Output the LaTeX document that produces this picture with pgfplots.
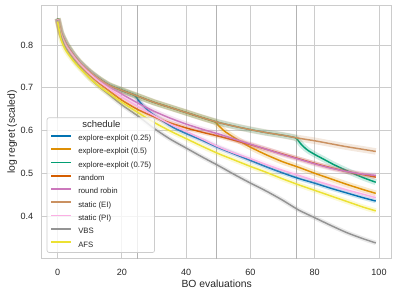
\documentclass[border=0pt]{standalone}
\usepackage{pgfplots}
\pgfplotsset{compat=1.18}
\usepackage{pgfplotstable}
\usepackage{fontspec}
\setmainfont{Liberation Sans}
\definecolor{cblue}{HTML}{0173B2}
\definecolor{corange}{HTML}{DE8F05}
\definecolor{cgreen}{HTML}{029E73}
\definecolor{cred}{HTML}{D55E00}
\definecolor{cmag}{HTML}{CC78BC}
\definecolor{cbrown}{HTML}{CA9161}
\definecolor{cpink}{HTML}{FBAFE4}
\definecolor{cgray}{HTML}{949494}
\definecolor{cyellow}{HTML}{ECE133}
\definecolor{cgrid}{HTML}{CCCCCC}
\definecolor{cvline}{HTML}{B3B3B3}

\pgfplotstableread{
x y
0 0.862
1 0.830
2 0.812
3 0.798
5 0.776
7 0.758
10 0.737
13 0.720
16 0.706
20 0.694
25 0.680
30 0.666
35 0.654
40 0.642
45 0.630
50 0.619
55 0.610
60 0.602
65 0.595
70 0.589
75 0.582
80 0.576
85 0.569
90 0.562
95 0.556
99 0.551
}\tEI

\pgfplotstableread{
x y
0 0.862
1 0.830
2 0.812
3 0.798
5 0.776
7 0.758
10 0.737
13 0.720
16 0.706
20 0.694
24 0.682
25 0.672
26 0.663
27 0.655
28 0.648
30 0.636
33 0.621
36 0.607
40 0.593
45 0.577
50 0.560
55 0.545
60 0.530
65 0.515
70 0.501
75 0.488
80 0.477
85 0.465
90 0.454
95 0.443
99 0.435
}\tEEa

\pgfplotstableread{
x y
0 0.862
1 0.830
2 0.812
3 0.798
5 0.776
7 0.758
10 0.737
13 0.720
16 0.706
20 0.694
25 0.680
30 0.666
35 0.654
40 0.642
45 0.630
49 0.620
50 0.612
51 0.605
52 0.598
54 0.588
57 0.574
60 0.561
65 0.543
70 0.527
75 0.514
80 0.500
85 0.487
90 0.474
95 0.462
99 0.453
}\tEEb

\pgfplotstableread{
x y
0 0.862
1 0.830
2 0.812
3 0.798
5 0.776
7 0.758
10 0.737
13 0.720
16 0.706
20 0.694
25 0.680
30 0.666
35 0.654
40 0.642
45 0.630
50 0.619
55 0.610
60 0.602
65 0.595
70 0.589
74 0.583
75 0.575
76 0.566
77 0.559
78 0.553
80 0.544
83 0.532
86 0.520
90 0.506
95 0.490
99 0.479
}\tEEc

\pgfplotstableread{
x y
0 0.860
1 0.826
2 0.806
3 0.792
5 0.770
7 0.752
10 0.729
13 0.710
16 0.693
20 0.671
25 0.649
30 0.632
35 0.618
40 0.606
45 0.596
50 0.587
55 0.577
60 0.567
65 0.556
70 0.545
75 0.534
80 0.523
85 0.513
90 0.504
95 0.497
99 0.491
}\tRand

\pgfplotstableread{
x y
0 0.860
1 0.828
2 0.809
3 0.795
5 0.774
7 0.757
10 0.736
13 0.718
16 0.703
20 0.685
25 0.664
30 0.645
35 0.629
40 0.615
45 0.603
50 0.592
55 0.580
60 0.568
65 0.556
70 0.544
75 0.533
80 0.522
85 0.512
90 0.504
95 0.498
99 0.495
}\tRR

\pgfplotstableread{
x y
0 0.860
1 0.827
2 0.808
3 0.794
5 0.773
7 0.755
10 0.733
13 0.714
16 0.698
20 0.678
25 0.656
30 0.635
35 0.615
40 0.598
45 0.580
50 0.562
55 0.547
60 0.534
65 0.520
70 0.507
75 0.495
80 0.483
85 0.472
90 0.461
95 0.451
99 0.443
}\tPI

\pgfplotstableread{
x y
0 0.858
1 0.822
2 0.801
3 0.787
5 0.765
7 0.747
10 0.722
13 0.702
16 0.684
20 0.660
25 0.634
30 0.605
35 0.580
40 0.559
45 0.538
50 0.518
55 0.497
60 0.477
65 0.458
70 0.437
75 0.414
80 0.396
85 0.378
90 0.361
95 0.347
99 0.337
}\tVBS

\pgfplotstableread{
x y
0 0.855
1 0.815
2 0.795
3 0.782
5 0.762
7 0.745
10 0.722
13 0.703
16 0.687
20 0.666
25 0.642
30 0.619
35 0.599
40 0.581
45 0.563
50 0.546
55 0.531
60 0.516
65 0.502
70 0.487
75 0.473
80 0.460
85 0.447
90 0.434
95 0.421
99 0.412
}\tAFS

\newcommand{\series}[3]{%
\addplot[forget plot, color=#2, opacity=0.2, line width=#3, line cap=butt, smooth, tension=0.4] table[x=x, y=y] {#1};
\addplot[forget plot, color=#2, line width=1.7pt, smooth, tension=0.4] table[x=x, y=y] {#1};
}

\begin{document}
\begin{tikzpicture}
\path[use as bounding box] (0,0) rectangle (460.8pt,342.7pt);
\begin{axis}[
  at={(48.3pt,43.6pt)}, anchor=south west,
  width=405.2pt, height=292.5pt, scale only axis,
  xmin=-4.95, xmax=103.95, ymin=0.301, ymax=0.892,
  xtick={0,20,40,60,80,100},
  ytick={0.4,0.5,0.6,0.7,0.8},
  yticklabel style={/pgf/number format/fixed, /pgf/number format/precision=1, /pgf/number format/fixed zerofill},
  /pgf/number format/assume math mode=true,
  major tick length=0pt,
  tick label style={font=\fontsize{10.5}{12}\selectfont, color=black!85},
  xticklabel style={inner sep=0pt, text height=7.6pt, text depth=0pt, anchor=north, yshift=-11.6pt},
  yticklabel style={inner sep=0pt, anchor=east, xshift=-9.7pt},
  grid=major,
  major grid style={color=cgrid, line width=1pt},
  axis line style={color=cgrid, line width=1.25pt},
  xlabel={BO evaluations},
  ylabel={log regret (scaled)},
  label style={font=\fontsize{12}{14}\selectfont, color=black!85},
  xlabel style={at={(axis description cs:0.5,0)}, anchor=base, yshift=-33.6pt},
  ylabel style={at={(axis description cs:0,0.5)}, anchor=base, yshift=31.1pt},
  legend style={at={(0.0143,0.558)}, anchor=north west, draw=cgrid, line width=0.8pt,
    rounded corners=2.5pt, fill=white, fill opacity=0.8, text opacity=1, draw opacity=1,
    inner xsep=3.8pt, inner ysep=4.5pt, row sep=6.9pt,
    font=\fontsize{9}{10}\selectfont,
    nodes={inner sep=0pt, text height=6.6pt, text depth=1.9pt, text=black!85}},
  legend cell align=left,
  legend image code/.code={\draw[#1, line width=1.9pt, opacity=1] (0pt,3.2pt) -- (23pt,3.2pt); \path (31pt,3pt);},
]
\addlegendimage{empty legend}
\addlegendentry{\hspace*{-31pt}\makebox[115.5pt][c]{\fontsize{11}{12}\selectfont\rule[-2.3pt]{0pt}{10.3pt}schedule}}
\addlegendimage{draw=cblue}
\addlegendentry{explore-exploit (0.25)}
\addlegendimage{draw=corange}
\addlegendentry{explore-exploit (0.5)}
\addlegendimage{draw=cgreen}
\addlegendentry{explore-exploit (0.75)}
\addlegendimage{draw=cred}
\addlegendentry{random}
\addlegendimage{draw=cmag}
\addlegendentry{round robin}
\addlegendimage{draw=cbrown}
\addlegendentry{static (EI)}
\addlegendimage{draw=cpink}
\addlegendentry{static (PI)}
\addlegendimage{draw=cgray}
\addlegendentry{VBS}
\addlegendimage{draw=cyellow}
\addlegendentry{AFS}

\addplot[forget plot, color=cvline, line width=1.3pt] coordinates {(24.75,0.2) (24.75,1)};
\addplot[forget plot, color=cvline, line width=1.3pt] coordinates {(49.5,0.2) (49.5,1)};
\addplot[forget plot, color=cvline, line width=1.3pt] coordinates {(74.25,0.2) (74.25,1)};

\series{\tEEa}{cblue}{5.2pt}
\series{\tEEb}{corange}{6.8pt}
\series{\tEEc}{cgreen}{6.8pt}
\series{\tRand}{cred}{5.2pt}
\series{\tRR}{cmag}{6pt}
\series{\tEI}{cbrown}{7.6pt}
\series{\tPI}{cpink}{6pt}
\series{\tVBS}{cgray}{5.2pt}
\series{\tAFS}{cyellow}{6pt}
\end{axis}
\end{tikzpicture}
\end{document}
